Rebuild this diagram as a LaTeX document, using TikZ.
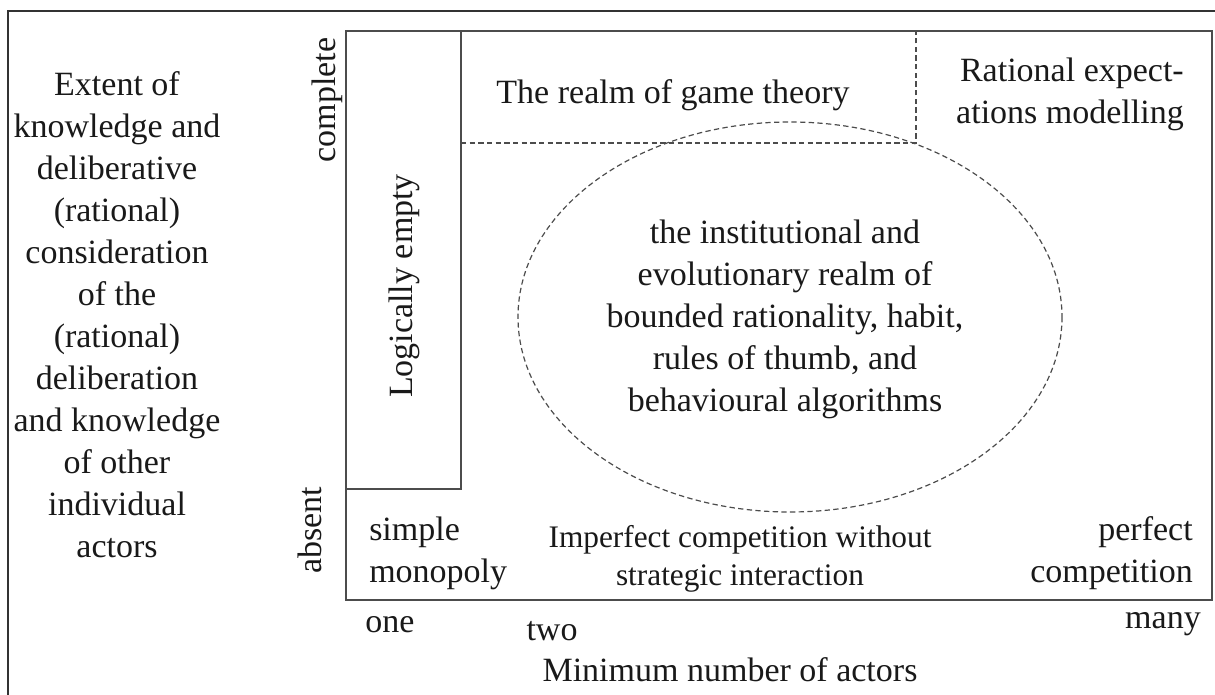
\documentclass[tikz,border=0pt]{standalone}
\usepackage{fontspec}
\setmainfont{Liberation Serif}
\begin{document}
\begin{tikzpicture}[x=0.75pt,y=-0.75pt,
  frame/.style={draw=black!80, line width=1.1pt},
  cell/.style={draw=black!70, line width=0.9pt},
  guide/.style={draw=black!70, line width=0.9pt, dash pattern=on 4pt off 2.5pt},
  lbl/.style={inner sep=0pt, align=center, text=black!90,
    font=\fontsize{25.5}{31.5}\selectfont},
  small/.style={lbl, font=\fontsize{23.5}{28.5}\selectfont}]
\useasboundingbox (0,0) rectangle (1215,695);
\clip (0,0) rectangle (1215,695);

% outer frame (right and bottom sides run past the page)
\draw[frame] (8,11) rectangle (1240,720);

% corner points of the diagram area
\coordinate (tl) at (346,31);
\coordinate (br) at (1212,600);
\coordinate (le) at (461,489);
\coordinate (gl) at (461,143);
\coordinate (gc) at (916,143);
\coordinate (gt) at (916,31);

\draw[cell] (tl) rectangle (br);
\draw[cell] (tl) rectangle (le);
\draw[guide] (gl) -- (gc) -- (gt);
\draw[guide] (790,317) ellipse [x radius=272, y radius=195];

% vertical axis title
\node[lbl] (ytitle) at (117,315) {Extent of\\knowledge and\\deliberative\\(rational)\\consideration\\of the\\(rational)\\deliberation\\and knowledge\\of other\\individual\\actors};

% axis ends
\node[lbl, rotate=90] (complete) at (327,100) {complete};
\node[lbl, rotate=90] (absent) at (310,530) {absent};

% regions
\node[lbl, rotate=90] (empty) at (404,286) {Logically empty};
\node[lbl] (game) at (673,95) {The realm of game theory};
\node[lbl, align=right] (ratex) at (1070,94) {Rational expect-\\ations modelling};
\node[lbl] (inst) at (785,319) {the institutional and\\evolutionary realm of\\bounded rationality, habit,\\rules of thumb, and\\behavioural algorithms};
\node[lbl, align=left, anchor=west] (mono) at (369,553) {simple\\monopoly};
\node[small] (imperf) at (740,559) {Imperfect competition without\\strategic interaction};
\node[lbl, align=right, anchor=east] (perf) at (1193,553) {perfect\\competition};

% horizontal axis
\node[lbl] (one) at (390,625) {one};
\node[lbl] (two) at (552,631) {two};
\node[lbl] (many) at (1163,624) {many};
\node[lbl] (xtitle) at (730,670) {Minimum number of actors};
\end{tikzpicture}
\end{document}
